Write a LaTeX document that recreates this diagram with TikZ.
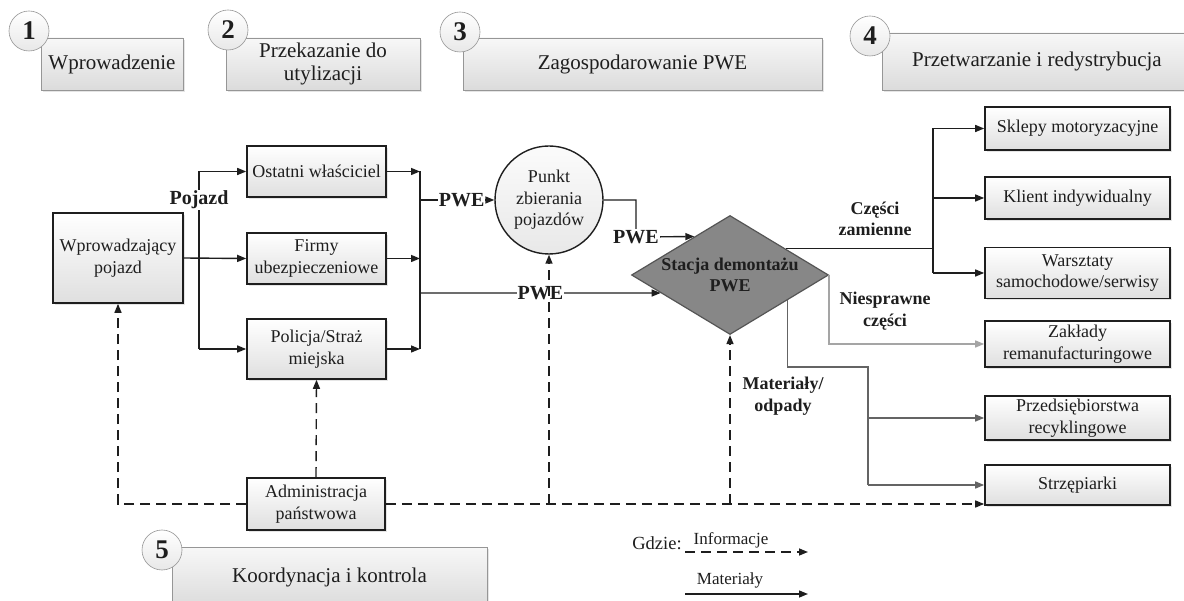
\documentclass[tikz,border=0pt]{standalone}
\usepackage{fontspec}
\setmainfont{Liberation Serif}
\usepackage{tikz}
\usetikzlibrary{
  arrows.meta,
  positioning,
  shapes.geometric,
  shadows,
  calc,
}
\definecolor{pweRamka}  {RGB}{150, 150, 150}
\definecolor{pweStacja} {RGB}{135, 135, 135}
\definecolor{pweBrzeg}  {RGB}{ 85,  85,  85}
\definecolor{pweJasny}  {RGB}{165, 165, 165}
\definecolor{pweCiemny} {RGB}{100, 100, 100}
\definecolor{pweTusz}   {RGB}{ 30,  30,  30}

\begin{document}
\begin{tikzpicture}[
  x=1pt, y=-1pt,
  >={Triangle[length=9pt,width=7pt]},
  etap/.style  ={draw=pweRamka, line width=0.6pt, top color=gray!6,
                 bottom color=gray!28, inner sep=0pt, align=center,
                 font=\fontsize{21}{22.5}\selectfont, text=pweTusz,
                 drop shadow={shadow xshift=2pt, shadow yshift=-2pt, fill=gray!40}},
  numer/.style ={circle, draw=pweRamka, line width=0.6pt, top color=white,
                 bottom color=gray!18, minimum size=40pt, inner sep=0pt,
                 font=\fontsize{27}{27}\selectfont\bfseries, text=pweTusz},
  blok/.style  ={draw=pweTusz, line width=1.6pt, top color=white,
                 bottom color=gray!25, inner sep=0pt, align=center,
                 font=\fontsize{18}{21.5}\selectfont, text=pweTusz,
                 drop shadow={shadow xshift=2pt, shadow yshift=-2pt, fill=gray!40}},
  prawy/.style ={blok, minimum width=185pt},
  punkt/.style ={circle, draw=pweTusz, line width=1.4pt, top color=gray!3,
                 bottom color=gray!18, minimum size=108pt, inner sep=0pt,
                 align=center, font=\fontsize{18}{21.5}\selectfont, text=pweTusz},
  stacja/.style={diamond, draw=pweBrzeg, line width=1.2pt, fill=pweStacja,
                 minimum width=197pt, minimum height=119pt, inner sep=0pt},
  mat/.style   ={->, line width=1.4pt, color=pweTusz},
  linia/.style ={line width=1.4pt, color=pweTusz},
  info/.style  ={->, line width=1.4pt, color=pweTusz, dash pattern=on 10pt off 6pt},
  etyk/.style  ={font=\fontsize{20}{22}\selectfont\bfseries, fill=white,
                 inner sep=1pt, text=pweTusz},
  etykm/.style ={font=\fontsize{18}{21.5}\selectfont\bfseries, align=center,
                 inner sep=0pt, text=pweTusz},
  legenda/.style={font=\fontsize{17}{19}\selectfont, inner sep=0pt, text=pweTusz},
]
  \useasboundingbox (0,0) rectangle (1184,601);

  % Stage tabs along the top edge, number badges over their corners
  \node[etap, minimum width=142pt, minimum height=52pt] (e1) at (112,64)    {Wprowadzenie};
  \node[etap, minimum width=194pt, minimum height=52pt] (e2) at (323,64)    {Przekazanie do\\utylizacji};
  \node[etap, minimum width=359pt, minimum height=52pt] (e3) at (642.5,64)  {Zagospodarowanie PWE};
  \node[etap, minimum width=310pt, minimum height=57pt] (e4) at (1037,61.5) {Przetwarzanie i redystrybucja};
  \node[etap, minimum width=315pt, minimum height=60pt] (e5) at (329.5,577) {Koordynacja i kontrola};
  \node[numer] (n1) at (29,31)   {1};
  \node[numer] (n2) at (228,30)  {2};
  \node[numer] (n3) at (460,32)  {3};
  \node[numer] (n4) at (870,36)  {4};
  \node[numer] (n5) at (162,550) {5};

  % Left part: vehicle handed over to one of three parties
  \node[blok, minimum width=130pt, minimum height=90pt] (wp) at (118,258)   {Wprowadzający\\pojazd};
  \node[blok, minimum width=139pt, minimum height=51pt] (ow) at (316.5,171.5) {Ostatni właściciel};
  \node[blok, minimum width=139pt, minimum height=51pt] (fu) at (316.5,258.5) {Firmy\\ubezpieczeniowe};
  \node[blok, minimum width=139pt, minimum height=60pt] (ps) at (316.5,349)   {Policja/Straż\\miejska};
  \node[blok, minimum width=138pt, minimum height=52pt] (ad) at (316,504)     {Administracja\\państwowa};

  % Middle: collection point and dismantling station
  \node[punkt] (pz) at (549,200) {Punkt\\zbierania\\pojazdów};
  \node[stacja] (st) at (730,275) {};
  \node[etykm] (sttxt) at (st) {Stacja demontażu\\PWE};

  % Right column of receivers
  \node[prawy, minimum height=43pt] (sk)   at (1077.5,128.5) {Sklepy motoryzacyjne};
  \node[prawy, minimum height=42pt] (kl)   at (1077.5,198)   {Klient indywidualny};
  \node[prawy, minimum height=51pt] (wa)   at (1077.5,273)   {Warsztaty\\samochodowe/serwisy};
  \node[prawy, minimum height=46pt] (za)   at (1077.5,344)   {Zakłady\\remanufacturingowe};
  \node[prawy, minimum height=44pt] (prz)  at (1077.5,418)   {Przedsiębiorstwa\\recyklingowe};
  \node[prawy, minimum height=40pt] (strz) at (1077.5,485)   {Strzępiarki};

  % Split and merge rails
  \coordinate (podz)  at (199,0);
  \coordinate (zbieg) at (420,0);
  \coordinate (dol)   at (420,293);
  \coordinate (zal)   at (636,237);
  \coordinate (rozdz) at (933,0);
  \coordinate (czA)   at ($(st.north)!0.563!(st.east)$);
  \coordinate (matA)  at ($(st.south)!0.58!(st.east)$);
  \coordinate (recyk) at (868,367);

  \draw[mat]   (wp.east) -- (fu.west);
  \draw[linia] (podz |- ow.west) -- (podz |- ps.west);
  \draw[mat]   (podz |- ow.west) -- (ow.west);
  \draw[mat]   (podz |- ps.west) -- (ps.west);
  \node[etyk] (lpoj) at (199,200) {Pojazd};

  \draw[mat]   (ow.east) -- (zbieg |- ow.east);
  \draw[mat]   (fu.east) -- (zbieg |- fu.east);
  \draw[mat]   (ps.east) -- (zbieg |- ps.east);
  \draw[linia] (zbieg |- ow.east) -- (zbieg |- ps.east);

  \draw[mat] (zbieg |- pz.west) -- (pz.west) node[etyk, pos=0.56] {PWE};
  \draw[mat] (pz.east) -| (zal) -- ($(st.north)!0.36!(st.west)$);
  \node[etyk] at (zal) {PWE};
  \draw[mat] (dol) -- ($(st.west)!0.3!(st.south)$) node[etyk, midway] {PWE};

  % Spare parts, faulty parts, materials
  \draw[linia] (czA) -- (rozdz |- czA);
  \draw[linia] (rozdz |- sk.west) -- (rozdz |- wa.west);
  \draw[mat] (rozdz |- sk.west) -- (sk.west);
  \draw[mat] (rozdz |- kl.west) -- (kl.west);
  \draw[mat] (rozdz |- wa.west) -- (wa.west);
  \node[etykm] at (875,219) {Części\\zamienne};

  \draw[mat, color=pweJasny] (st.east) |- (za.west);
  \node[etykm] at (885,311) {Niesprawne\\części};

  \draw[linia, color=pweCiemny] (matA) |- (recyk) -- (recyk |- strz.west);
  \draw[mat, color=pweCiemny] (recyk |- prz.west) -- (prz.west);
  \draw[mat, color=pweCiemny] (recyk |- strz.west) -- (strz.west);
  \node[etykm] at (783,396) {Materiały/\\odpady};

  % Information flows from the administration
  \draw[info] (ad.west) -| (wp.south);
  \draw[info] (ad.north) -- (ps.south);
  \draw[info] (ad.east) -- (ad.east -| strz.south west);
  \draw[info] (ad.east -| pz.south) -- (pz.south);
  \draw[info] (ad.east -| st.south) -- (st.south);

  % Legend
  \coordinate (infS) at (685,552);
  \coordinate (infK) at (808,552);
  \coordinate (matS) at (685,594);
  \coordinate (matK) at (808,594);
  \node[legenda, font=\fontsize{18.5}{20}\selectfont] (gdzie) at (657,543) {Gdzie:};
  \node[legenda] (linf) at (731,540) {Informacje};
  \node[legenda] (lmat) at (730,580) {Materiały};
  \draw[info] (infS) -- (infK);
  \draw[mat]  (matS) -- (matK);
\end{tikzpicture}
\end{document}
